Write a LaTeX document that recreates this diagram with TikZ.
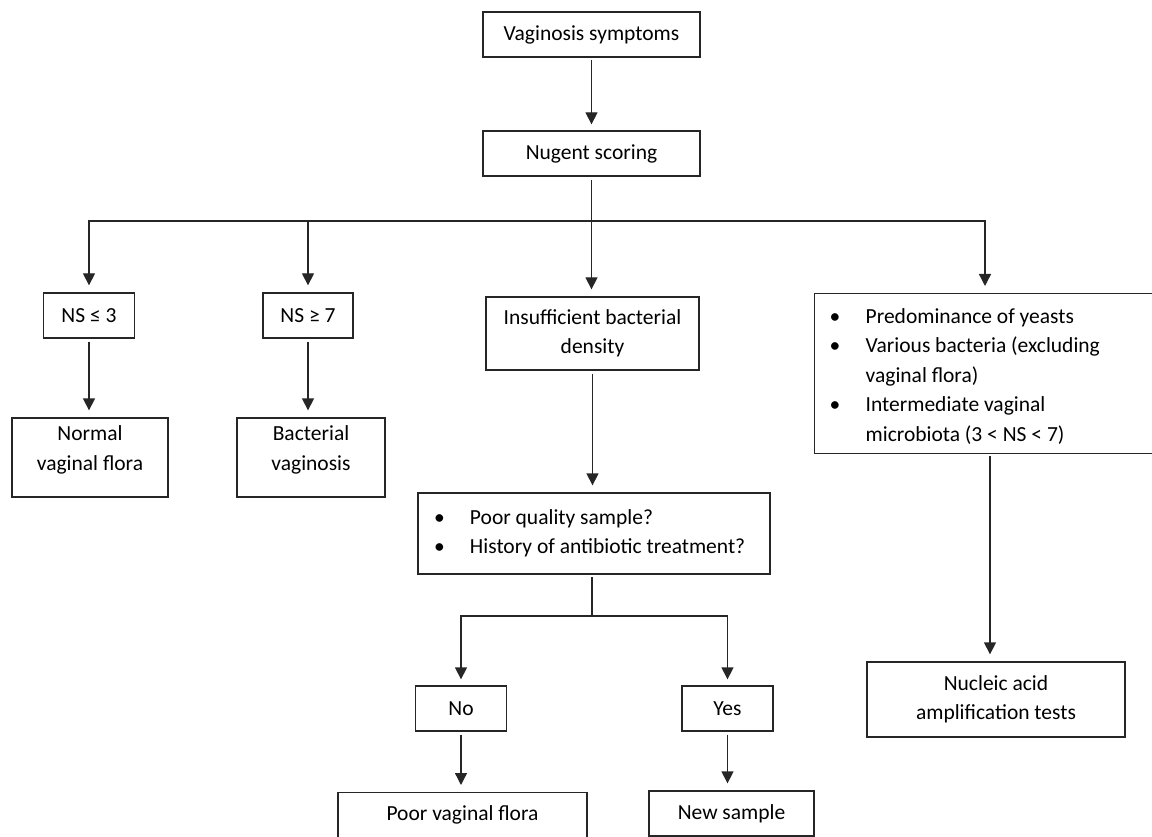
\documentclass[tikz,border=0pt]{standalone}
\usepackage{fontspec}
\setmainfont{Carlito}
\usetikzlibrary{arrows.meta}
\newcommand{\bitem}[1]{\makebox[36pt][l]{\textbullet}#1}
\newcommand{\bcont}[1]{\hspace*{36pt}#1}
\newcommand{\upl}[2]{\raisebox{#1}[\height][\depth]{\begin{tabular}{@{}c@{}}#2\end{tabular}}}
\begin{document}
\begin{tikzpicture}[x=1pt,y={(0pt,-1pt)},
  box/.style={draw=black!85, line width=1.3pt, rectangle, inner sep=0pt, align=center,
    font=\fontsize{21.5}{29.5}\selectfont},
  conn/.style={draw=black!85, line width=1.3pt},
  arr/.style={conn, -{Triangle[length=12pt,width=12pt]}}]
\useasboundingbox (0,0) rectangle (1152,837);
% nodes
\node[box, minimum width=217, minimum height=45] (V) at (591.5,34.5) {Vaginosis symptoms};
\node[box, minimum width=217, minimum height=45] (N) at (591.5,153.5) {Nugent scoring};
\node[box, minimum width=91, minimum height=45] (ns3) at (89,315.5) {NS ≤ 3};
\node[box, minimum width=90, minimum height=45] (ns7) at (308,315.5) {NS ≥ 7};
\node[box, minimum width=213, minimum height=73] (ins) at (592.5,333.5) {Insufficient bacterial\\density};
\node[box, anchor=north west, minimum width=345, minimum height=160, inner xsep=15pt,
  text width=315pt, align=flush left] (R) at (814,293)
  {\rule{0pt}{20.5pt}\bitem{Predominance of yeasts}\\\bitem{Various bacteria (excluding}\\\bcont{vaginal flora)}\\\bitem{Intermediate vaginal}\\\bcont{microbiota (3 < NS < 7)}};
\node[box, minimum width=156, minimum height=79] (norm) at (90,457.5) {\upl{8pt}{Normal\\vaginal flora}};
\node[box, minimum width=148, minimum height=79] (bact) at (311,457.5) {\upl{8pt}{Bacterial\\vaginosis}};
\node[box, minimum width=352, minimum height=81, inner xsep=16pt, text width=320pt, align=flush left] (pq) at (594,533.5)
  {\bitem{Poor quality sample?}\\\bitem{History of antibiotic treatment?}};
\node[box, minimum width=91, minimum height=45] (no) at (461,708.5) {No};
\node[box, minimum width=91, minimum height=45] (yes) at (727.5,708.5) {Yes};
\node[box, anchor=north, minimum width=249, inner ysep=8pt, text height=20pt, text depth=30pt] (pvf) at (462.5,792) {Poor vaginal flora};
\node[box, minimum width=165, minimum height=45] (nsamp) at (731.5,813.5) {New sample};
\node[box, minimum width=258, minimum height=75] (nuc) at (996,699.5) {Nucleic acid\\amplification tests};
% connectors
\coordinate (b1) at (591.5,221);
\coordinate (rin) at (985,293);
\coordinate (b2) at (592,616);
\coordinate (rx) at (990,0);
\draw[arr, shorten <=2pt, shorten >=6pt] (V) -- (N);
\draw[conn, shorten <=3pt] (N) -- (b1);
\draw[arr, shorten >=7pt] (b1) -| (ns3.north);
\draw[arr, shorten >=7pt] (b1) -| (ns7.north);
\draw[arr, shorten >=7pt] (b1) -- (b1 |- ins.north);
\draw[arr, shorten >=7pt] (b1) -| (rin);
\draw[arr, shorten <=3pt, shorten >=7pt] (ns3.south) -- (ns3.south |- norm.north);
\draw[arr, shorten <=3pt, shorten >=7pt] (ns7.south) -- (ns7.south |- bact.north);
\draw[arr, shorten <=3pt, shorten >=7pt] (ins.south) -- (ins.south |- pq.north);
\draw[conn, shorten <=2pt] (pq.south -| b2) -- (b2);
\draw[arr, shorten >=6pt] (b2) -| (no.north);
\draw[arr, shorten >=6pt] (b2) -| (yes.north);
\draw[arr, shorten <=3pt, shorten >=7pt] (no.south) -- (no.south |- pvf.north);
\draw[arr, shorten <=3pt, shorten >=7pt] (yes.south) -- (yes.south |- nsamp.north);
\draw[arr, shorten <=2pt, shorten >=7pt] (R.south -| rx) -- (rx |- nuc.north);
\end{tikzpicture}
\end{document}
